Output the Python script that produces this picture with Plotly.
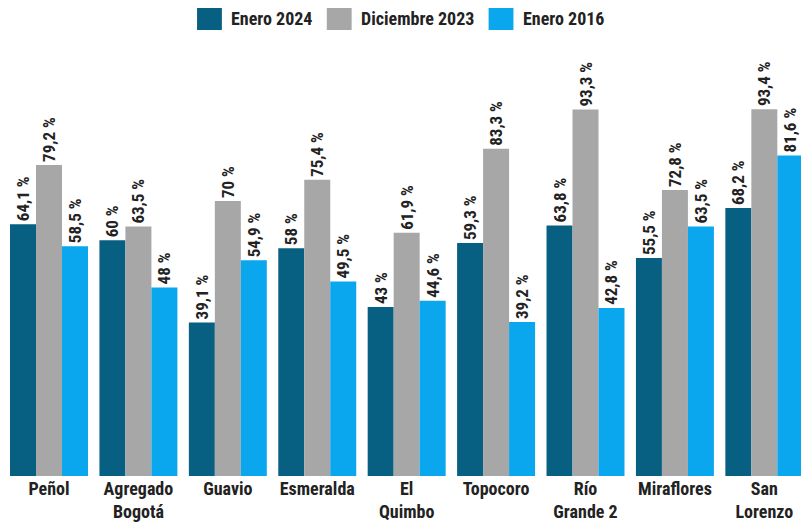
import plotly.graph_objects as go

categories = ["Peñol", "Agregado<br>Bogotá", "Guavio", "Esmeralda", "El<br>Quimbo",
              "Topocoro", "Río<br>Grande 2", "Miraflores", "San<br>Lorenzo"]
series_names = ["Enero 2024", "Diciembre 2023", "Enero 2016"]
enero_2024 = [64.1, 60, 39.1, 58, 43, 59.3, 63.8, 55.5, 68.2]
diciembre_2023 = [79.2, 63.5, 70, 75.4, 61.9, 83.3, 93.3, 72.8, 93.4]
enero_2016 = [58.5, 48, 54.9, 49.5, 44.6, 39.2, 42.8, 63.5, 81.6]
colors = ["#075f82", "#a7a7a7", "#0aa6ee"]

FONT = "Roboto Condensed, Liberation Sans Narrow, Roboto, sans-serif"

def fmt(v):
    s = ("%g" % v).replace(".", ",")
    return s + " %"

fig = go.Figure()
for name, vals, col in zip(series_names, [enero_2024, diciembre_2023, enero_2016], colors):
    fig.add_trace(go.Bar(
        x=categories, y=vals, name=name, marker_color=col, marker_line_width=0,
        text=[fmt(v) for v in vals], textposition="outside", textangle=-90,
        textfont=dict(family=FONT, size=17, color="#222222", weight="bold"),
        constraintext="none", cliponaxis=False, showlegend=False,
    ))

# custom legend with large square swatches
legend_x = [0.246, 0.408, 0.610]
for name, col, lx in zip(series_names, colors, legend_x):
    fig.add_shape(type="rect", xref="paper", yref="paper",
                  x0=lx, x1=lx + 0.031, y0=1.0 + 10 / 436, y1=1.0 + 32 / 436,
                  fillcolor=col, line_width=0)
    fig.add_annotation(text=name, xref="paper", yref="paper",
                       x=lx + 0.031 + 0.009, y=1.0 + 21 / 436, xanchor="left", yanchor="middle",
                       showarrow=False,
                       font=dict(family=FONT, size=18, color="#222222", weight="bold"))

fig.update_layout(
    width=801, height=522,
    margin=dict(l=0, r=0, t=40, b=46),
    paper_bgcolor="white", plot_bgcolor="white",
    barmode="group", bargap=0.128, bargroupgap=0,
    showlegend=False,
    font=dict(family=FONT, color="#222222"),
)
fig.update_xaxes(range=[-0.548, 8.41], showgrid=False, showline=False, ticks="",
                 tickfont=dict(family=FONT, size=18, color="#222222", weight="bold"))
fig.update_yaxes(range=[0, 111], visible=False, showgrid=False)

fig.write_html("out.html")
